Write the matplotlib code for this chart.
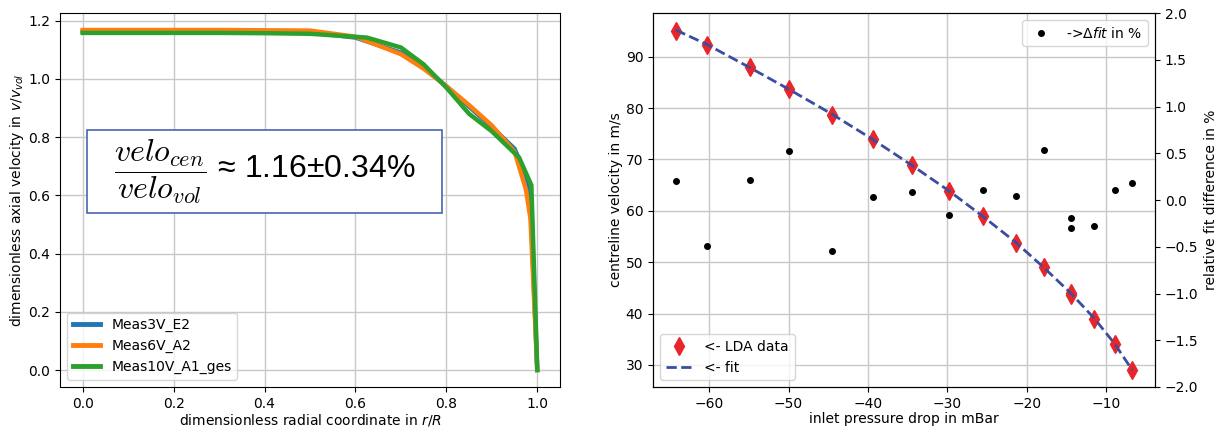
import matplotlib
matplotlib.use("Agg")
import matplotlib.pyplot as plt
from matplotlib.patches import Rectangle

# ---------------- data: left panel (velocity profiles) ----------------
r_e2 = [0.0, 0.1, 0.2, 0.3, 0.4, 0.5, 0.6, 0.7, 0.75, 0.8, 0.85, 0.9, 0.95, 0.975, 0.985, 1.0]
v_e2 = [1.163, 1.163, 1.163, 1.163, 1.162, 1.160, 1.142, 1.090, 1.040, 0.975, 0.905, 0.835, 0.760, 0.670, 0.580, 0.0]

r_a2 = [0.0, 0.1, 0.2, 0.3, 0.4, 0.5, 0.6, 0.7, 0.75, 0.8, 0.85, 0.9, 0.95, 0.975, 0.985, 1.0]
v_a2 = [1.168, 1.168, 1.168, 1.168, 1.167, 1.166, 1.145, 1.085, 1.035, 0.975, 0.910, 0.840, 0.750, 0.620, 0.520, 0.0]

r_a1 = [0.0, 0.1, 0.2, 0.3, 0.4, 0.5, 0.625, 0.7, 0.75, 0.8, 0.85, 0.9, 0.96, 0.987, 1.0]
v_a1 = [1.158, 1.158, 1.158, 1.158, 1.157, 1.155, 1.142, 1.108, 1.050, 0.970, 0.880, 0.820, 0.730, 0.635, 0.0]

profile_labels = ["Meas3V_E2", "Meas6V_A2", "Meas10V_A1_ges"]

# ---------------- data: right panel (centreline velocity) ----------------
dp = [-64.2, -60.3, -54.9, -50.0, -44.5, -39.4, -34.5, -29.8, -25.5, -21.4,
      -17.8, -14.4, -14.4, -11.5, -8.9, -6.7]
v_lda = [95.1, 92.3, 88.0, 83.8, 78.6, 73.9, 68.9, 63.8, 58.9, 53.8,
         49.0, 43.9, 43.7, 39.0, 34.1, 29.0]
dp_fit = [-64.2, -60.3, -54.9, -50.0, -44.5, -39.4, -34.5, -29.8, -25.5, -21.4,
          -17.8, -14.4, -11.5, -8.9, -6.7]
v_fit = [95.2, 92.4, 87.9, 83.7, 78.8, 73.9, 68.9, 63.9, 58.9, 53.9,
         48.9, 43.9, 39.1, 34.1, 29.0]
fit_diff = [0.20, -0.49, 0.21, 0.52, -0.55, 0.03, 0.09, -0.16, 0.11, 0.04,
            0.54, -0.19, -0.30, -0.28, 0.11, 0.18]

FS = 10

fig = plt.figure(figsize=(12.23, 4.32), dpi=100)
ax1 = fig.add_axes([60 / 1223, 45 / 432, 500 / 1223, 374 / 432])
ax2 = fig.add_axes([653 / 1223, 45 / 432, 502 / 1223, 374 / 432])

# ---- left ----
ax1.plot(r_e2, v_e2, color="#1f77b4", lw=3.2, label=profile_labels[0])
ax1.plot(r_a2, v_a2, color="#ff7f0e", lw=3.2, label=profile_labels[1])
ax1.plot(r_a1, v_a1, color="#2ca02c", lw=3.2, label=profile_labels[2])
ax1.grid(True, color="#c8c8c8", lw=1)
ax1.set_xticks([0.0, 0.2, 0.4, 0.6, 0.8, 1.0])
ax1.set_yticks([0.0, 0.2, 0.4, 0.6, 0.8, 1.0, 1.2])
ax1.set_xlabel(r"dimensionless radial coordinate in $r/R$", fontsize=FS, labelpad=1)
ax1.set_ylabel(r"dimensionless axial velocity in $v/v_{vol}$", fontsize=FS, labelpad=2)
leg1 = ax1.legend(loc="lower left", fontsize=FS, handlelength=2.0)
for h in leg1.get_lines():
    h.set_linewidth(3.5)
ax1.tick_params(labelsize=FS)

ax1.add_patch(Rectangle((0.054, 0.465), 0.71, 0.222, transform=ax1.transAxes,
                        fill=True, facecolor="white", edgecolor="#4a64b4", lw=1.2, zorder=5))
ax1.text(0.41, 0.575,
         r"$\dfrac{velo_{cen}}{velo_{vol}}$" + " ≈ 1.16±0.34%",
         transform=ax1.transAxes, ha="center", va="center", fontsize=23,
         family=["Liberation Sans", "DejaVu Sans"], math_fontfamily="cm", zorder=6)

# ---- right ----
ax2.plot(dp, v_lda, linestyle="none", marker="d", color="#e8262a", ms=9,
         label="<- LDA data", zorder=3)
ax2.plot(dp_fit, v_fit, linestyle="--", color="#3b4da0", lw=2, label="<- fit", zorder=4)
ax2.grid(True, color="#c8c8c8", lw=1)
ax2.set_xticks([-60, -50, -40, -30, -20, -10])
ax2.set_yticks([30, 40, 50, 60, 70, 80, 90])
ax2.set_xlabel("inlet pressure drop in mBar", fontsize=FS, labelpad=1)
ax2.set_ylabel("centreline velocity in m/s", fontsize=FS, labelpad=2)
ax2.tick_params(labelsize=FS)
ax2.legend(loc="lower left", fontsize=FS)

ax3 = ax2.twinx()
ax3.plot(dp, fit_diff, linestyle="none", marker="o", color="black", ms=4,
         label=r"->$\Delta fit$ in %")
ax3.set_ylim(-2.0, 2.0)
ax3.set_yticks([-2.0, -1.5, -1.0, -0.5, 0.0, 0.5, 1.0, 1.5, 2.0])
ax3.set_ylabel("relative fit difference in %", fontsize=FS, labelpad=4)
ax3.tick_params(labelsize=FS)
ax3.legend(loc="upper right", fontsize=FS)

fig.savefig("out.png", dpi=100)
